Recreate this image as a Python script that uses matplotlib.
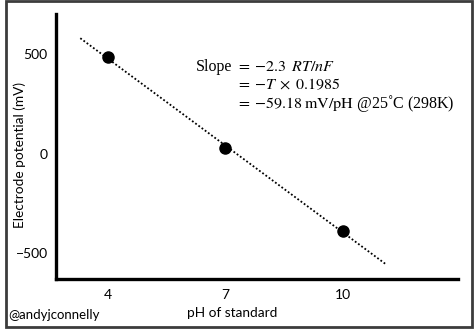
import numpy as np
import matplotlib
matplotlib.use("Agg")
import matplotlib.pyplot as plt
from matplotlib.patches import Rectangle

# ---- data ----
ph_standards = [4, 7, 10]
potential_mv = [485, 28, -389]
trend_ph_range = [3.3, 11.1]
x_ticks = [4, 7, 10]
x_ticklabels = ["4", "7", "10"]
y_ticks = [500, 0, -500]
y_ticklabels = ["500", "0", "\u2212500"]
x_label = "pH of standard"
y_label = "Electrode potential (mV)"
credit = "@andyjconnelly"
slope_lines = [r"$=\:{-2.3}\;\;RT/nF$",
               r"$=\:{-T}\;\times\;0.1985$",
               r"$=\:{-59.18}\;\mathrm{mV/pH}$ @25˚C (298K)"]

plt.rcParams["font.family"] = ["Lato", "DejaVu Sans"]
plt.rcParams["mathtext.fontset"] = "stix"

fig = plt.figure(figsize=(4.74, 3.33), dpi=100)
W, H = 474, 333
ax = fig.add_axes([56 / W, 1 - 279 / H, (458 - 56) / W, (279 - 14) / H])

# trend line through data
coef = np.polyfit(ph_standards, potential_mv, 1)
xs = np.array(trend_ph_range)
ax.plot(xs, np.polyval(coef, xs), color="black", lw=1.3, linestyle=(0, (1, 1.2)), zorder=2)
ax.plot(ph_standards, potential_mv, "o", color="black", markersize=8, zorder=3)

ax.set_xlim(2.68, 12.94)
ax.set_ylim(-630, 702)
ax.set_xticks(x_ticks)
ax.set_xticklabels(x_ticklabels, fontsize=10)
ax.set_yticks(y_ticks)
ax.set_yticklabels(y_ticklabels, fontsize=10)
ax.tick_params(axis="y", length=0, pad=6)
ax.tick_params(axis="x", length=0, pad=7)
for s in ["top", "right"]:
    ax.spines[s].set_visible(False)
for s in ["left", "bottom"]:
    ax.spines[s].set_linewidth(2.4)
    ax.spines[s].set_color("black")

ax.set_xlabel(x_label, fontsize=9.8)
ax.xaxis.set_label_coords((232 - 56) / (458 - 56), -(313 - 279) / (279 - 14), transform=ax.transAxes)
ax.xaxis.label.set_va("center")
ax.set_ylabel(y_label, fontsize=9.8)
ax.yaxis.set_label_coords(-(56 - 20) / (458 - 56), (279 - 155) / (279 - 14), transform=ax.transAxes)
ax.yaxis.label.set_va("center")

# slope annotation
serif = ["Liberation Serif", "DejaVu Serif"]
fig.text(232 / W, 1 - 67 / H, "Slope", ha="right", va="center", fontsize=11.5, family=serif)
for i, line in enumerate(slope_lines):
    fig.text(236 / W, 1 - (67 + 18 * i) / H, line, ha="left", va="center", fontsize=11.5, family=serif)

fig.text(8 / W, 1 - 315 / H, credit, ha="left", va="center", fontsize=9.5)

fig.patches.append(Rectangle((6 / W, 6 / H), 466 / W, 326 / H, transform=fig.transFigure,
                             fill=False, edgecolor="#3c3c3c", linewidth=2))

fig.savefig("out.png", dpi=100)
